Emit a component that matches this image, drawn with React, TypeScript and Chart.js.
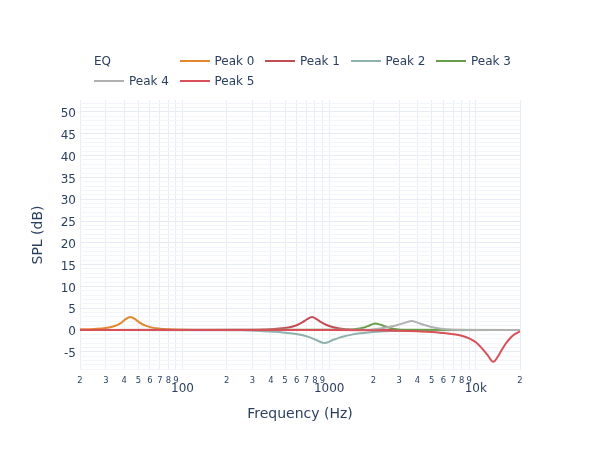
import React, { useEffect, useRef } from "react";
import { Chart, registerables } from "chart.js";

Chart.register(...registerables);

const FONT = "'DejaVu Sans', Verdana, sans-serif";
const TEXT = "#2a3f5f";

const seriesNames = ["Peak 0", "Peak 1", "Peak 2", "Peak 3", "Peak 4", "Peak 5"];
const seriesColors = ["#e3872c", "#c44c55", "#8fb1ae", "#6a9d49", "#b1b1b1", "#d9505a"];

const peak0Freq = [20, 25, 30, 34, 38, 41, 44, 47, 51, 56, 62, 70, 80, 100, 150, 20000];
const peak0Gain = [0.15, 0.25, 0.45, 0.85, 1.6, 2.5, 3.0, 2.6, 1.7, 1.0, 0.55, 0.3, 0.15, 0.05, 0, 0];

const peak1Freq = [20, 300, 360, 420, 480, 540, 600, 660, 710, 764, 820, 880, 960, 1050, 1150, 1300, 1500, 1800, 20000];
const peak1Gain = [0, 0.05, 0.12, 0.22, 0.38, 0.65, 1.1, 1.8, 2.5, 3.0, 2.5, 1.8, 1.15, 0.7, 0.42, 0.2, 0.08, 0.02, 0];

const peak2Freq = [20, 250, 340, 420, 500, 580, 660, 740, 830, 930, 1040, 1160, 1300, 1450, 1620, 1850, 2150, 2600, 3200, 4500, 20000];
const peak2Gain = [0, -0.05, -0.2, -0.4, -0.6, -0.85, -1.2, -1.7, -2.4, -3.0, -2.4, -1.8, -1.35, -1.0, -0.75, -0.55, -0.4, -0.25, -0.15, -0.05, 0];

const peak3Freq = [20, 1300, 1500, 1700, 1850, 1960, 2070, 2200, 2350, 2550, 2800, 3100, 20000];
const peak3Gain = [0, 0.05, 0.2, 0.5, 0.95, 1.3, 1.5, 1.3, 0.95, 0.55, 0.25, 0.08, 0];

const peak4Freq = [20, 1800, 2100, 2400, 2700, 3000, 3300, 3650, 4000, 4400, 4900, 5500, 6200, 7000, 20000];
const peak4Gain = [0, 0.05, 0.25, 0.5, 0.85, 1.25, 1.7, 2.05, 1.7, 1.2, 0.75, 0.42, 0.2, 0.08, 0];

const peak5Freq = [20, 1000, 2000, 3000, 4000, 5000, 6000, 7000, 8000, 9000, 10000, 11000, 12000, 13150, 14000, 15000, 16000, 17000, 18000, 19000, 20000];
const peak5Gain = [0, 0, -0.05, -0.15, -0.3, -0.45, -0.7, -0.95, -1.3, -1.9, -2.8, -4.2, -5.7, -7.3, -6.3, -4.6, -3.1, -2.0, -1.2, -0.7, -0.3];

const seriesFreqs = [peak0Freq, peak1Freq, peak2Freq, peak3Freq, peak4Freq, peak5Freq];
const seriesGains = [peak0Gain, peak1Gain, peak2Gain, peak3Gain, peak4Gain, peak5Gain];

const xTickValues = [20, 30, 40, 50, 60, 70, 80, 90, 100, 200, 300, 400, 500, 600, 700, 800, 900, 1000, 2000, 3000, 4000, 5000, 6000, 7000, 8000, 9000, 10000, 20000];
const xTickLabels = ["2", "3", "4", "5", "6", "7", "8", "9", "100", "2", "3", "4", "5", "6", "7", "8", "9", "1000", "2", "3", "4", "5", "6", "7", "8", "9", "10k", "2"];
const xMajorTicks = [100, 1000, 10000];

const yMin = -9.17;
const yMax = 52.75;
const yLabelStep = 5;
const yGridStep = 1;

export default function App() {
  const canvasRef = useRef<HTMLCanvasElement | null>(null);

  useEffect(() => {
    const canvas = canvasRef.current;
    if (!canvas) return;
    const datasets = seriesNames.map((name, i) => ({
      label: name,
      data: seriesFreqs[i].map((f, j) => ({ x: f, y: seriesGains[i][j] })),
      borderColor: seriesColors[i],
      backgroundColor: seriesColors[i],
      borderWidth: 2,
      pointRadius: 0,
      pointHoverRadius: 0,
      fill: false,
      cubicInterpolationMode: "monotone" as const,
      order: seriesNames.length - 1 - i,
    }));

    const chart = new Chart(canvas, {
      type: "line",
      data: { datasets },
      options: {
        animation: false,
        responsive: false,
        maintainAspectRatio: false,
        layout: { padding: { left: 0, top: 100, right: 80, bottom: 0 } },
        plugins: { legend: { display: false }, tooltip: { enabled: false }, title: { display: false } },
        scales: {
          x: {
            type: "logarithmic",
            min: 20,
            max: 20000,
            afterBuildTicks: (scale: any) => {
              scale.ticks = xTickValues.map((v) => ({ value: v, major: xMajorTicks.includes(v) }));
            },
            afterFit: (scale: any) => {
              scale.height = 80;
            },
            ticks: {
              autoSkip: false,
              maxRotation: 0,
              minRotation: 0,
              padding: 6,
              color: TEXT,
              callback: (value: any) => {
                const idx = xTickValues.indexOf(Number(value));
                return idx >= 0 ? xTickLabels[idx] : "";
              },
              font: (ctx: any) => {
                const v = ctx.tick ? ctx.tick.value : 0;
                return xMajorTicks.includes(v)
                  ? { family: FONT, size: 12, lineHeight: 2.1 }
                  : { family: FONT, size: 8.4, lineHeight: 1.2 };
              },
            },
            grid: { color: "#e8edf5", lineWidth: 1, drawTicks: false },
            border: { display: false },
            title: {
              display: true,
              text: "Frequency (Hz)",
              color: TEXT,
              font: { family: FONT, size: 14 },
              padding: { top: 0, bottom: 27.6 },
            },
          },
          y: {
            type: "linear",
            min: yMin,
            max: yMax,
            afterBuildTicks: (scale: any) => {
              const ticks: any[] = [];
              for (let v = Math.ceil(yMin); v <= Math.floor(yMax); v += yGridStep) ticks.push({ value: v });
              scale.ticks = ticks;
            },
            afterFit: (scale: any) => {
              scale.width = 80;
            },
            ticks: {
              autoSkip: false,
              padding: 4,
              labelOffset: 2,
              color: TEXT,
              font: { family: FONT, size: 12 },
              callback: (value: any) => (Number(value) % yLabelStep === 0 ? String(value) : ""),
            },
            grid: {
              color: (ctx: any) => (ctx.tick && ctx.tick.value % yLabelStep === 0 ? "#e6ebf4" : "#f2f5fa"),
              lineWidth: 1,
              drawTicks: false,
            },
            border: { display: false },
            title: {
              display: true,
              text: "SPL (dB)",
              color: TEXT,
              font: { family: FONT, size: 14 },
              padding: { top: 29.6, bottom: 0 },
            },
          },
        },
      },
    });
    return () => chart.destroy();
  }, []);

  const slot = 85.5;
  const legendLeft = 94;
  const legendItems = seriesNames.map((name, i) => {
    const k = i + 1;
    const row = k < 5 ? 0 : 1;
    const col = row === 0 ? k : k - 5;
    return { name, color: seriesColors[i], left: legendLeft + col * slot, top: row === 0 ? 61 : 81 };
  });

  return (
    <div style={{ position: "absolute", left: 0, top: 0, width: 600, height: 450, background: "#fff" }}>
      <canvas ref={canvasRef} width={600} height={450} style={{ display: "block", width: 600, height: 450 }} />
      <div
        style={{
          position: "absolute",
          left: legendLeft,
          top: 61 - 9,
          height: 18,
          lineHeight: "18px",
          fontFamily: FONT,
          fontSize: 12,
          color: TEXT,
          whiteSpace: "nowrap",
        }}
      >
        EQ
      </div>
      {legendItems.map((it) => (
        <div
          key={it.name}
          style={{
            position: "absolute",
            left: it.left,
            top: it.top - 9,
            height: 18,
            display: "flex",
            alignItems: "center",
            fontFamily: FONT,
            fontSize: 12,
            color: TEXT,
            whiteSpace: "nowrap",
          }}
        >
          <span style={{ display: "inline-block", width: 30, height: 2, background: it.color, marginRight: 5 }} />
          <span>{it.name}</span>
        </div>
      ))}
    </div>
  );
}
